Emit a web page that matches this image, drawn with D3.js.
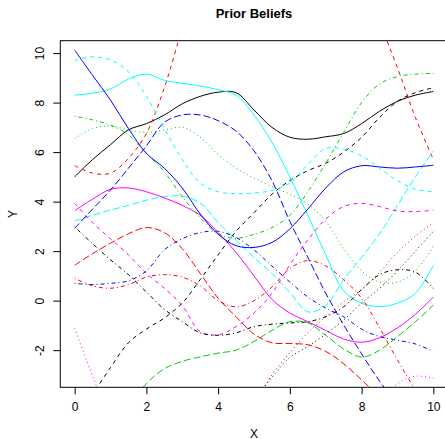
<!DOCTYPE html>
<html lang="en">

<head>
	<meta charset="UTF-8">
	<title>Prior Beliefs</title>

	<style>
		body {
			margin: 0;
			background: #fff;
		}

		text {
			font-family: "Liberation Sans", Arial, sans-serif;
			fill: #000;
		}
	</style>

	<script src="https://cdn.jsdelivr.net/npm/d3@7"></script>
</head>

<body>
	<script type="text/javascript">
		const width = 445;
		const height = 439;

		// sample points along x, every curve is given at these positions
		const xs = [0, 0.5, 1, 1.5, 2, 2.5, 3, 3.5, 4, 4.5, 5, 5.5, 6, 6.5, 7, 7.5, 8, 8.5, 9, 9.5, 10];

		// 20 prior draws, in the order they were plotted (matplot style cycling)
		const blackSolid = [5.0, 5.7, 6.3, 6.9, 7.15, 7.5, 7.95, 8.25, 8.42, 8.4, 7.7, 7.0, 6.6, 6.52, 6.62, 6.75, 7.15, 7.65, 8.05, 8.3, 8.45];
		const redDashed = [5.45, 5.15, 5.15, 5.75, 6.75, 8.6, 11.0, 13.2, 14.8, 15.8, 16.3, 16.4, 16.2, 15.7, 14.9, 13.9, 12.6, 11.2, 9.4, 7.4, 5.7];
		const greenDotted = [6.55, 6.95, 7.05, 6.9, 6.8, 6.9, 7.0, 6.6, 5.9, 5.35, 4.95, 4.6, 4.3, 3.9, 3.2, 2.1, 1.2, 0.75, 0.75, 1.2, 2.2];
		const blueDotDash = [0.7, 0.65, 0.7, 0.8, 1.2, 2.05, 2.5, 2.75, 2.8, 2.55, 2.05, 1.4, 0.75, 0.15, -0.3, -0.65, -1.15, -1.45, -1.6, -1.75, -2.05];
		const cyanLongDash = [3.22, 3.45, 3.66, 3.85, 4.06, 4.2, 4.22, 3.95, 3.15, 2.45, 1.75, 1.1, 0.33, -0.45, -0.2, 0.85, 1.75, 2.7, 3.85, 5.0, 6.05];
		const magentaSolid = [3.63, 4.1, 4.5, 4.55, 4.4, 4.15, 3.85, 3.45, 2.75, 1.95, 1.0, 0.05, -0.5, -0.85, -1.2, -1.55, -1.68, -1.5, -1.1, -0.55, 0.15];
		const blackDashed = [-4.6, -3.75, -2.7, -1.7, -1.15, -0.7, -0.1, 0.85, 1.85, 2.8, 3.55, 4.3, 4.85, 5.25, 5.55, 6.0, 6.6, 7.4, 8.05, 8.4, 8.6];
		const redDotted = [-6.5, -6.8, -7.0, -7.0, -6.8, -6.5, -6.2, -5.9, -5.6, -5.0, -4.2, -3.0, -2.1, -1.3, -0.65, -0.05, 0.45, 1.15, 1.95, 2.6, 3.15];
		const greenDotDash = [7.45, 7.3, 7.09, 6.7, 5.95, 5.2, 4.2, 3.35, 2.7, 2.52, 2.68, 2.95, 3.45, 4.4, 5.55, 6.8, 8.0, 8.75, 9.05, 9.15, 9.18];
		const blueLongDash = [2.92, 3.7, 4.47, 5.35, 6.25, 7.2, 7.5, 7.5, 7.27, 6.85, 6.05, 4.85, 3.2, 1.75, 0.3, -0.98, -2.15, -3.25, -4.2, -5.0, -5.6];
		const cyanSolid = [8.3, 8.38, 8.55, 8.95, 9.15, 8.9, 8.78, 8.67, 8.52, 8.3, 7.5, 6.4, 5.0, 3.45, 1.85, 0.4, -0.1, -0.24, -0.1, 0.3, 1.43];
		const magentaDashed = [3.93, 3.15, 2.5, 1.85, 1.1, 0.5, -0.2, -1.25, -1.38, -1.05, -0.5, 0.3, 1.45, 2.45, 3.3, 3.8, 3.93, 3.8, 3.62, 3.6, 3.65];
		const blackDotted = [-7.0, -7.2, -7.3, -7.3, -7.2, -7.0, -6.7, -6.3, -5.8, -5.0, -4.0, -3.1, -2.3, -1.85, -1.35, -0.78, -0.1, 0.5, 1.2, 2.0, 2.8];
		const redDotDash = [0.9, 0.6, 0.5, 0.65, 0.95, 1.05, 0.95, 0.6, 0.0, -0.25, 0.0, 0.55, 1.3, 1.62, 1.4, 0.85, 0.1, -1.1, -2.4, -3.6, -4.6];
		const greenLongDash = [-7.0, -6.2, -5.3, -4.3, -3.35, -2.75, -2.45, -2.27, -2.12, -2.0, -1.65, -1.2, -0.85, -0.9, -1.4, -1.95, -2.28, -2.0, -1.45, -0.85, -0.18];
		const blueSolid = [10.12, 9.1, 8.1, 6.95, 5.95, 5.35, 4.55, 3.5, 2.68, 2.22, 2.15, 2.35, 2.9, 3.7, 4.55, 5.2, 5.45, 5.4, 5.35, 5.4, 5.47];
		const cyanDashed = [9.7, 9.85, 9.72, 9.25, 8.25, 6.95, 5.7, 4.75, 4.4, 4.32, 4.35, 4.45, 4.75, 5.5, 6.15, 6.12, 5.85, 5.35, 4.85, 4.5, 4.4];
		const magentaDotted = [-1.12, -3.05, -4.8, -6.0, -6.8, -7.3, -7.6, -7.7, -7.7, -7.6, -7.4, -7.2, -7.0, -6.8, -6.6, -6.3, -5.6, -4.3, -3.35, -3.05, -3.14];
		const blackDotDash = [2.98, 2.3, 1.65, 1.05, 0.35, -0.35, -0.85, -1.3, -1.4, -1.3, -1.05, -0.95, -0.9, -0.85, -0.65, -0.25, 0.45, 1.05, 1.25, 1.15, 0.49];
		const redLongDash = [1.43, 1.9, 2.32, 2.7, 2.95, 2.75, 2.1, 1.1, 0.1, -0.65, -1.35, -1.7, -1.73, -1.78, -2.05, -2.55, -3.2, -3.9, -4.6, -5.2, -5.6];

		const draws = [blackSolid, redDashed, greenDotted, blueDotDash, cyanLongDash,
			magentaSolid, blackDashed, redDotted, greenDotDash, blueLongDash,
			cyanSolid, magentaDashed, blackDotted, redDotDash, greenLongDash,
			blueSolid, cyanDashed, magentaDotted, blackDotDash, redLongDash];

		const xTicks = [0, 2, 4, 6, 8, 10];
		const yTicks = [-2, 0, 2, 4, 6, 8, 10];

		// colours 1:6 and line types 1:5 cycle like R's matplot
		const palette = ["#000000", "#FF0000", "#00CD00", "#0000FF", "#00FFFF", "#FF00FF"];
		const ltys = [null, "4,4", "1,3", "1,3,4,3", "7,3"];

		const plot = { left: 60.3, right: 447.7, top: 40.7, bottom: 387.3 };

		const svg = d3.select("body").append("svg")
			.attr("width", width)
			.attr("height", height);

		const x = d3.scaleLinear().domain([-0.4, 10.4]).range([plot.left, plot.right]);
		const y = d3.scaleLinear().domain([-3.5, 10.5]).range([plot.bottom, plot.top]);

		svg.append("clipPath").attr("id", "plotclip")
			.append("rect")
			.attr("x", plot.left).attr("y", plot.top)
			.attr("width", plot.right - plot.left).attr("height", plot.bottom - plot.top);

		const line = d3.line()
			.x((d, i) => x(xs[i]))
			.y(d => y(d))
			.curve(d3.curveCatmullRom.alpha(0.5));

		svg.append("g")
			.attr("clip-path", "url(#plotclip)")
			.selectAll("path")
			.data(draws)
			.join("path")
			.attr("d", d => line(d))
			.attr("fill", "none")
			.attr("stroke", (d, i) => palette[i % 6])
			.attr("stroke-dasharray", (d, i) => ltys[i % 5])
			.attr("stroke-width", 1);

		// axes, R style: outward ticks, no axis line (the box does that)
		const xAxis = svg.append("g")
			.attr("transform", `translate(0,${plot.bottom})`)
			.call(d3.axisBottom(x).tickValues(xTicks).tickSize(7).tickFormat(d3.format("d")));
		xAxis.select(".domain").remove();
		xAxis.selectAll("text").attr("dy", null).attr("y", 24).style("font-size", "12px");

		const yAxis = svg.append("g")
			.attr("transform", `translate(${plot.left},0)`)
			.call(d3.axisLeft(y).tickValues(yTicks).tickSize(7).tickFormat(d => d < 0 ? "-" + Math.abs(d) : d));
		yAxis.select(".domain").remove();
		yAxis.selectAll("text")
			.attr("x", null).attr("dy", null)
			.attr("text-anchor", "middle")
			.attr("transform", "translate(-16.7,0) rotate(-90)")
			.style("font-size", "12px");
		svg.selectAll(".tick line").attr("stroke", "#000");
		svg.selectAll(".tick text").attr("fill", "#000").attr("font-family", "Liberation Sans, Arial, sans-serif");

		svg.append("rect")
			.attr("x", plot.left).attr("y", plot.top)
			.attr("width", plot.right - plot.left).attr("height", plot.bottom - plot.top)
			.attr("fill", "none")
			.attr("stroke", "#000");

		svg.append("text")
			.attr("x", (plot.left + plot.right) / 2)
			.attr("y", 18)
			.attr("text-anchor", "middle")
			.style("font-size", "13px")
			.style("font-weight", "bold")
			.text("Prior Beliefs");

		svg.append("text")
			.attr("x", (plot.left + plot.right) / 2)
			.attr("y", 437.5)
			.attr("text-anchor", "middle")
			.style("font-size", "12px")
			.text("X");

		svg.append("text")
			.attr("transform", `translate(16.7,${(plot.top + plot.bottom) / 2}) rotate(-90)`)
			.attr("text-anchor", "middle")
			.style("font-size", "12px")
			.text("Y");
	</script>
</body>

</html>
